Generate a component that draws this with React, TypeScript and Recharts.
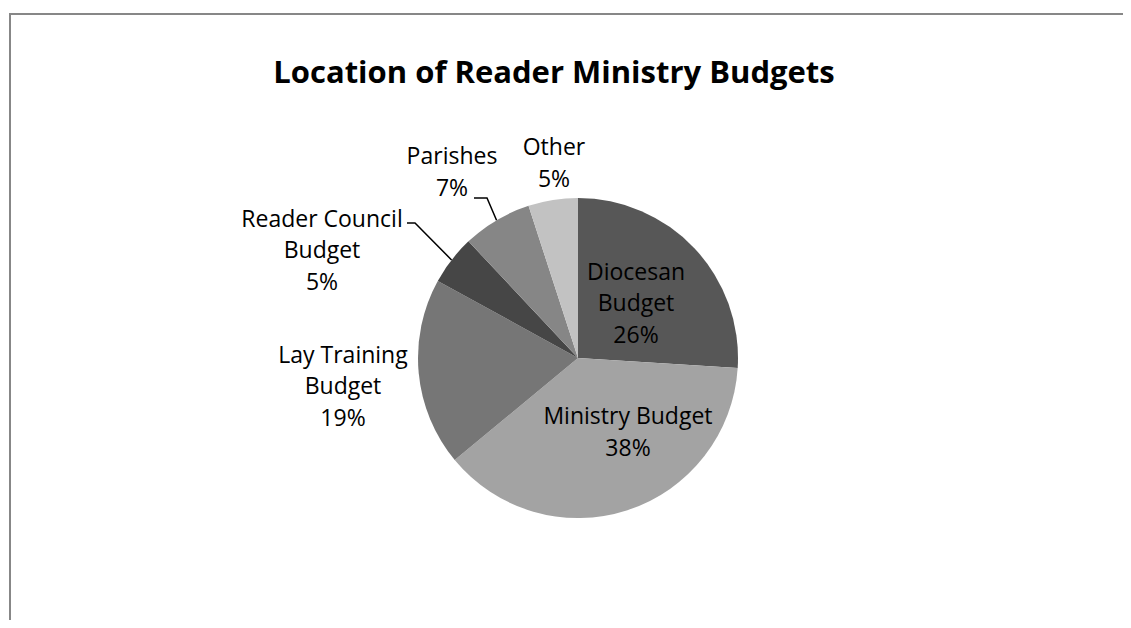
import React from 'react';
import { PieChart, Pie, Cell } from 'recharts';

const categories = ['Diocesan Budget', 'Ministry Budget', 'Lay Training Budget', 'Reader Council Budget', 'Parishes', 'Other'];
const shares = [26, 38, 19, 5, 7, 5];
// label text, already wrapped the way the original breaks it
const labelLines = [
  ['Diocesan', 'Budget', '26%'],
  ['Ministry Budget', '38%'],
  ['Lay Training', 'Budget', '19%'],
  ['Reader Council', 'Budget', '5%'],
  ['Parishes', '7%'],
  ['Other', '5%'],
];

const COLORS = ['#575757', '#a3a3a3', '#767676', '#464646', '#868686', '#c2c2c2'];

// label block centre relative to pie centre, and whether to draw a leader line
const LABEL_LAYOUT = [
  { dx: 58, dy: -55, leader: false },
  { dx: 50, dy: 74, leader: false },
  { dx: -235, dy: 28, leader: false },
  { dx: -256, dy: -108, leader: true, elbowDx: -163, elbowDy: -135, startDx: -171 },
  { dx: -126, dy: -186, leader: true, elbowDx: -91, elbowDy: -160, startDx: -104 },
  { dx: -24, dy: -195, leader: false },
];

const data = categories.map((name, i) => ({ name, value: shares[i] }));

const LINE_H = 31.5;
const FONT = '"Open Sans", "Liberation Sans", sans-serif';

const renderLabel = (props: any) => {
  const { cx, cy, midAngle, outerRadius, index } = props;
  const lay = LABEL_LAYOUT[index];
  const lines = labelLines[index];
  const x = cx + lay.dx;
  const yc = cy + lay.dy;
  const y0 = yc - ((lines.length - 1) * LINE_H) / 2;
  let leader = null;
  if (lay.leader) {
    const rad = (-midAngle * Math.PI) / 180;
    const ex = cx + outerRadius * Math.cos(rad);
    const ey = cy + outerRadius * Math.sin(rad);
    const pts = `${cx + lay.startDx},${cy + lay.elbowDy} ${cx + lay.elbowDx},${cy + lay.elbowDy} ${ex},${ey}`;
    leader = <polyline points={pts} fill="none" stroke="#000" strokeWidth={1.5} />;
  }
  return (
    <g key={`lbl-${index}`}>
      {leader}
      <text x={x} y={y0} textAnchor="middle" fontFamily={FONT} fontSize={23} fill="#000">
        {lines.map((t, i) => (
          <tspan key={i} x={x} y={y0 + i * LINE_H} dy="0.35em">
            {t}
          </tspan>
        ))}
      </text>
    </g>
  );
};

const App: React.FC = () => {
  return (
    <div style={{ margin: -8, width: 1131, height: 628, overflow: 'hidden', position: 'relative', background: '#fff' }}>
      <div
        style={{
          position: 'absolute',
          left: 9,
          top: 13,
          width: 1200,
          height: 700,
          borderTop: '2px solid #878787',
          borderLeft: '2px solid #878787',
        }}
      />
      <div
        style={{
          position: 'absolute',
          left: 0,
          top: 48,
          width: 1108,
          textAlign: 'center',
          fontFamily: FONT,
          fontWeight: 'bold',
          fontSize: 31,
          lineHeight: '46px',
          color: '#000',
        }}
      >
        Location of Reader Ministry Budgets
      </div>
      <div style={{ position: 'absolute', left: 0, top: 0 }}>
        <PieChart width={1131} height={628} margin={{ top: 0, right: 0, bottom: 0, left: 0 }}>
          <Pie
            data={data}
            dataKey="value"
            nameKey="name"
            cx={578}
            cy={358}
            outerRadius={160}
            startAngle={90}
            endAngle={-270}
            stroke="none"
            labelLine={false}
            label={renderLabel}
            isAnimationActive={false}
          >
            {data.map((entry, index) => (
              <Cell key={`cell-${index}`} fill={COLORS[index % COLORS.length]} />
            ))}
          </Pie>
        </PieChart>
      </div>
    </div>
  );
};

export default App;
